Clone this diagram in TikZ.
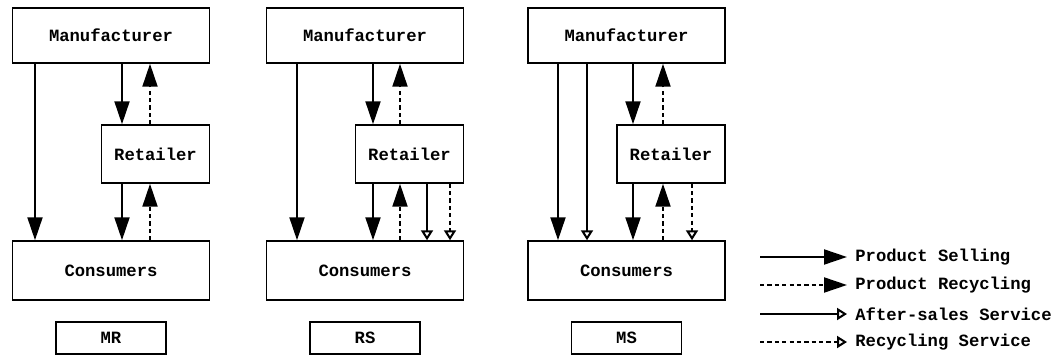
\documentclass[tikz,border=0pt]{standalone}
\usepackage{fontspec}
\setmonofont{Liberation Mono}
\usetikzlibrary{arrows.meta, positioning}

\tikzset{
  box/.style={draw, line width=0.85pt, inner sep=0pt,
    font=\ttfamily\bfseries\fontsize{9.8}{12}\selectfont},
  legend/.style={inner sep=0pt, anchor=west,
    font=\ttfamily\bfseries\fontsize{9.8}{12}\selectfont},
  sell/.style={line width=1.15pt, -{Triangle[length=0.46cm, width=0.3cm]}},
  recyc/.style={sell, dash pattern=on 2.4pt off 1.8pt},
  after/.style={line width=1.15pt, -{Triangle[open, length=0.2cm, width=0.24cm]}},
  rserv/.style={after, dash pattern=on 2.4pt off 1.8pt},
}

\begin{document}
\begin{tikzpicture}[x=0.02cm, y=-0.02cm]
  \useasboundingbox (0,0) rectangle (1055,358);
  % three channel structures
  \foreach \p/\cx/\lab in {A/111/MR, B/365/RS, C/626.5/MS}{
    \node[box, minimum width=3.94cm, minimum height=1.1cm] (m\p) at (\cx,35.5) {Manufacturer};
    \node[box, minimum width=2.16cm, minimum height=1.16cm] (r\p) at (\cx+44.5,154) {Retailer};
    \node[box, minimum width=3.94cm, minimum height=1.18cm] (c\p) at (\cx,270.5) {Consumers};
    \node[box, minimum width=2.2cm, minimum height=0.64cm] (l\p) at (\cx,338) {\lab};
  }
  % MR
  \draw[sell]  (35,0 |- mA.south)  -- (35,0 |- cA.north);
  \draw[sell]  (122,0 |- mA.south) -- (122,0 |- rA.north);
  \draw[recyc] (150,0 |- rA.north) -- (150,0 |- mA.south);
  \draw[sell]  (122,0 |- rA.south) -- (122,0 |- cA.north);
  \draw[recyc] (150,0 |- cA.north) -- (150,0 |- rA.south);
  % RS
  \draw[sell]  (297,0 |- mB.south) -- (297,0 |- cB.north);
  \draw[sell]  (373,0 |- mB.south) -- (373,0 |- rB.north);
  \draw[recyc] (400,0 |- rB.north) -- (400,0 |- mB.south);
  \draw[sell]  (373,0 |- rB.south) -- (373,0 |- cB.north);
  \draw[recyc] (400,0 |- cB.north) -- (400,0 |- rB.south);
  \draw[after] (427,0 |- rB.south) -- (427,0 |- cB.north);
  \draw[rserv] (450,0 |- rB.south) -- (450,0 |- cB.north);
  % MS
  \draw[sell]  (558,0 |- mC.south) -- (558,0 |- cC.north);
  \draw[after] (587,0 |- mC.south) -- (587,0 |- cC.north);
  \draw[sell]  (633,0 |- mC.south) -- (633,0 |- rC.north);
  \draw[recyc] (663,0 |- rC.north) -- (663,0 |- mC.south);
  \draw[sell]  (633,0 |- rC.south) -- (633,0 |- cC.north);
  \draw[recyc] (663,0 |- cC.north) -- (663,0 |- rC.south);
  \draw[rserv] (692,0 |- rC.south) -- (692,0 |- cC.north);
  % legend
  \foreach \i/\st/\txt/\y in {1/sell/Product Selling/257, 2/recyc/Product Recycling/285,
                              3/after/After-sales Service/314, 4/rserv/Recycling Service/342}{
    \node[legend] (t\i) at (855,\y) {\txt};
    \coordinate (s\i) at (760,\y);
    \draw[\st] (s\i) -- ([xshift=-0.16cm]t\i.west);
  }
\end{tikzpicture}
\end{document}
